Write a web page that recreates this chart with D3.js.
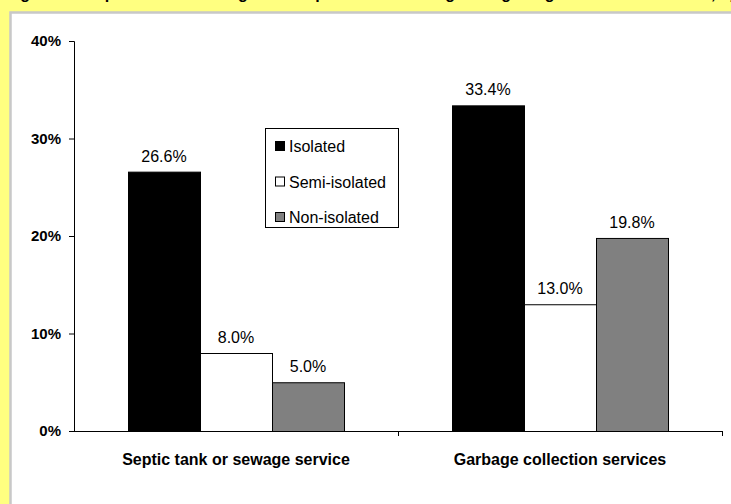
<!DOCTYPE html>
<html>
<head>
<meta charset="utf-8">
<script src="https://cdn.jsdelivr.net/npm/d3@7"></script>
<style>
  html, body { margin: 0; padding: 0; background: #FFFF80; }
  svg { display: block; font-family: Arial, "Liberation Sans", sans-serif; }
</style>
</head>
<body>
<svg id="chart" width="731" height="504"></svg>
<script>
// Service categories and isolation groups
const categories = ["Septic tank or sewage service", "Garbage collection services"];
const seriesNames = ["Isolated", "Semi-isolated", "Non-isolated"];
const isolated = [0.266, 0.334];
const semiIsolated = [0.080, 0.130];
const nonIsolated = [0.050, 0.198];
const yTicks = [0, 0.1, 0.2, 0.3, 0.4];
const fills = ["#000000", "#FFFFFF", "#808080"];
const titleText = "Figure 6: Proportion of dwellings with septic tank or sewage and garbage collection services, by isolation";

const seriesValues = [isolated, semiIsolated, nonIsolated];
const rows = categories.map((c, i) => ({
  category: c,
  values: seriesNames.map((s, j) => ({ series: s, value: seriesValues[j][i], idx: j }))
}));

const svg = d3.select("#chart");

// page title (runs off the top edge)
svg.append("text")
  .attr("x", 6).attr("y", -1)
  .attr("font-size", 16).attr("font-weight", "bold")
  .attr("fill", "#000")
  .text(titleText);

// white chart panel with grey bevel edge
svg.append("rect").attr("x", 10).attr("y", 12).attr("width", 740).attr("height", 520)
  .attr("fill", "#FFFFFF");
svg.append("path").attr("d", "M10.5,520V12.5H740")
  .attr("fill", "none").attr("stroke", "#C8C8C8").attr("stroke-width", 2.5);

const plotLeft = 74, plotRight = 722, plotTop = 41, plotBottom = 431;

const x0 = d3.scaleBand().domain(categories).range([plotLeft, plotRight]).paddingInner(0).paddingOuter(0);
const x1 = d3.scaleBand().domain(seriesNames).range([0, x0.bandwidth()]).paddingInner(0).paddingOuter(0.75);
const y = d3.scaleLinear().domain([0, 0.4]).range([plotBottom, plotTop]);

// y axis
const yAxis = svg.append("g").attr("transform", `translate(${plotLeft},0)`)
  .call(d3.axisLeft(y).tickValues(yTicks).tickFormat(d3.format(".0%")).tickSize(5).tickPadding(8));
yAxis.selectAll("path, line").attr("stroke", "#000");
yAxis.selectAll("text").attr("font-size", 15).attr("font-weight", "bold")
  .attr("font-family", "Arial, 'Liberation Sans', sans-serif").attr("fill", "#000");

// bars
const groups = svg.selectAll("g.cat").data(rows).join("g")
  .attr("class", "cat")
  .attr("transform", d => `translate(${x0(d.category)},0)`);

groups.selectAll("rect").data(d => d.values).join("rect")
  .attr("x", d => x1(d.series) + 0.5)
  .attr("y", d => y(d.value) + 0.5)
  .attr("width", x1.bandwidth())
  .attr("height", d => y(0) - y(d.value))
  .attr("fill", d => fills[d.idx])
  .attr("stroke", "#000").attr("stroke-width", 1);

// value labels
groups.selectAll("text.val").data(d => d.values).join("text")
  .attr("class", "val")
  .attr("x", d => x1(d.series) + x1.bandwidth() / 2)
  .attr("y", d => y(d.value) - 10)
  .attr("text-anchor", "middle")
  .attr("font-size", 16).attr("fill", "#000")
  .text(d => d3.format(".1%")(d.value));

// x axis
const xAxis = svg.append("g").attr("transform", `translate(0,${plotBottom})`);
xAxis.append("line").attr("x1", plotLeft).attr("x2", plotRight).attr("y1", 0.5).attr("y2", 0.5)
  .attr("stroke", "#000");
const boundaries = [x0(categories[1]), plotRight];
xAxis.selectAll("line.tick").data(boundaries).join("line")
  .attr("class", "tick")
  .attr("x1", d => d + 0.5).attr("x2", d => d + 0.5)
  .attr("y1", 0).attr("y2", 5).attr("stroke", "#000");
xAxis.selectAll("text").data(categories).join("text")
  .attr("x", d => x0(d) + x0.bandwidth() / 2)
  .attr("y", 34)
  .attr("text-anchor", "middle")
  .attr("font-size", 16).attr("font-weight", "bold").attr("fill", "#000")
  .text(d => d);

// legend
const legend = svg.append("g").attr("transform", "translate(265,128)");
legend.append("rect").attr("x", 0.5).attr("y", 0.5).attr("width", 133).attr("height", 99)
  .attr("fill", "#FFFFFF").attr("stroke", "#000");
const items = legend.selectAll("g.item").data(seriesNames).join("g")
  .attr("class", "item")
  .attr("transform", (d, i) => `translate(0,${18 + i * 35.5})`);
items.append("rect").attr("x", 10.5).attr("y", -4.5).attr("width", 9).attr("height", 9)
  .attr("fill", (d, i) => fills[i]).attr("stroke", "#000");
items.append("text").attr("x", 24).attr("y", 6)
  .attr("font-size", 16).attr("fill", "#000")
  .text(d => d);
</script>
</body>
</html>
